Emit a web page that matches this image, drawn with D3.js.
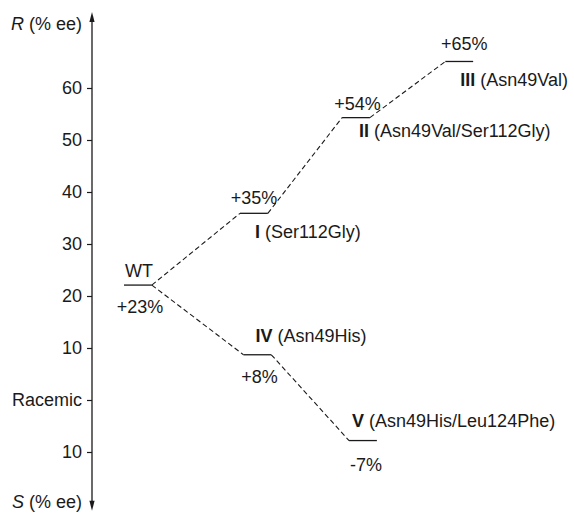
<!DOCTYPE html>
<html>
<head>
<meta charset="utf-8">
<script src="https://cdn.jsdelivr.net/npm/d3@7"></script>
<style>
  html, body { margin: 0; padding: 0; background: #fff; }
  svg { display: block; font-family: "Liberation Sans", Arial, Helvetica, sans-serif; }
</style>
</head>
<body>
<svg id="chart" width="574" height="513"></svg>
<script>
// ---- data ----
const variants   = ["WT", "I", "II", "III", "IV", "V"];
const mutations  = ["", "Ser112Gly", "Asn49Val/Ser112Gly", "Asn49Val", "Asn49His", "Asn49His/Leu124Phe"];
const stage      = [0, 1, 1.88, 2.77, 1.03, 1.94];       // horizontal step position (arbitrary units)
const eeValues   = [22.1, 35.9, 54.3, 65.1, 8.7, -7.8];   // vertical position (% ee, R positive)
const eeLabels   = ["+23%", "+35%", "+54%", "+65%", "+8%", "-7%"];
const links      = [[0, 1], [1, 2], [2, 3], [0, 4], [4, 5]];
const tickValues = [-10, 0, 10, 20, 30, 40, 50, 60];
const tickLabels = ["10", "Racemic", "10", "20", "30", "40", "50", "60"];
const axisExtent = [-21.3, 74.6];
const levelWidth = 0.24;

// ---- layout / style ----
const svg = d3.select("#chart");
const y = d3.scaleLinear().domain([-10, 60]).range([452, 88]);
const x = d3.scaleLinear().domain([0, 1]).range([124, 240]);
const axisX = 92;
const ink = "#1a1a1a";
const fontSize = 18;

// per-label placement: ee label (dx from centre, dy from level) and mutation label (dx from left, dy)
const place = [
  { ee: [2, 28],  mut: null },
  { ee: [0, -9],  mut: [15, 25] },
  { ee: [1.5, -8], mut: [17, 19] },
  { ee: [5, -11], mut: [15, 25] },
  { ee: [2, 28],  mut: [12, -13] },
  { ee: [3, 30],  mut: [3, -14] }
];

// ---- axis ----
const axis = d3.axisLeft(y)
  .tickValues(tickValues)
  .tickFormat((d, i) => tickLabels[i])
  .tickSize(5)
  .tickPadding(5);

const gAxis = svg.append("g").attr("transform", `translate(${axisX},0)`).call(axis);
gAxis.select(".domain").remove();
gAxis.selectAll(".tick line").attr("stroke", ink).attr("stroke-width", 1.2);
gAxis.selectAll(".tick text")
  .attr("fill", ink)
  .style("font-size", fontSize + "px")
  .style("font-family", "'Liberation Sans', Arial, sans-serif");

// axis line with arrows
const yTop = y(axisExtent[1]), yBot = y(axisExtent[0]);
svg.append("line")
  .attr("x1", axisX).attr("x2", axisX)
  .attr("y1", yTop + 6).attr("y2", yBot - 6)
  .attr("stroke", ink).attr("stroke-width", 1.3);
svg.append("path")
  .attr("d", `M${axisX},${yTop} L${axisX - 2.6},${yTop + 10} L${axisX + 2.6},${yTop + 10} Z`)
  .attr("fill", ink);
svg.append("path")
  .attr("d", `M${axisX},${yBot} L${axisX - 2.6},${yBot - 10} L${axisX + 2.6},${yBot - 10} Z`)
  .attr("fill", ink);

// axis titles
const tR = svg.append("text").attr("x", 82).attr("y", 30).attr("text-anchor", "end")
  .attr("fill", ink).style("font-size", fontSize + "px");
tR.append("tspan").attr("font-style", "italic").text("R");
tR.append("tspan").text(" (% ee)");
const tS = svg.append("text").attr("x", 82).attr("y", 508).attr("text-anchor", "end")
  .attr("fill", ink).style("font-size", fontSize + "px");
tS.append("tspan").attr("font-style", "italic").text("S");
tS.append("tspan").text(" (% ee)");

// ---- dashed connectors ----
svg.append("g").selectAll("line").data(links).join("line")
  .attr("x1", d => x(stage[d[0]] + levelWidth))
  .attr("y1", d => y(eeValues[d[0]]))
  .attr("x2", d => x(stage[d[1]]))
  .attr("y2", d => y(eeValues[d[1]]))
  .attr("stroke", ink)
  .attr("stroke-width", 1.1)
  .attr("stroke-dasharray", "5,3");

// ---- level bars ----
const idx = d3.range(variants.length);
svg.append("g").selectAll("line").data(idx).join("line")
  .attr("x1", i => x(stage[i]))
  .attr("x2", i => x(stage[i] + levelWidth))
  .attr("y1", i => y(eeValues[i]))
  .attr("y2", i => y(eeValues[i]))
  .attr("stroke", ink)
  .attr("stroke-width", 1.3);

// ---- ee labels ----
svg.append("g").selectAll("text").data(idx).join("text")
  .attr("x", i => x(stage[i] + levelWidth / 2) + place[i].ee[0])
  .attr("y", i => y(eeValues[i]) + place[i].ee[1])
  .attr("text-anchor", "middle")
  .attr("fill", ink)
  .style("font-size", fontSize + "px")
  .text(i => eeLabels[i]);

// WT label above its bar
svg.append("text")
  .attr("x", x(stage[0] + levelWidth / 2) + 1)
  .attr("y", y(eeValues[0]) - 8)
  .attr("text-anchor", "middle")
  .attr("fill", ink)
  .style("font-size", fontSize + "px")
  .text(variants[0]);

// ---- variant / mutation labels ----
const mutIdx = idx.filter(i => place[i].mut);
const mt = svg.append("g").selectAll("text").data(mutIdx).join("text")
  .attr("x", i => x(stage[i]) + place[i].mut[0])
  .attr("y", i => y(eeValues[i]) + place[i].mut[1])
  .attr("fill", ink)
  .style("font-size", fontSize + "px");
mt.append("tspan").attr("font-weight", "bold").text(i => variants[i]);
mt.append("tspan").text(i => " (" + mutations[i] + ")");
</script>
</body>
</html>
